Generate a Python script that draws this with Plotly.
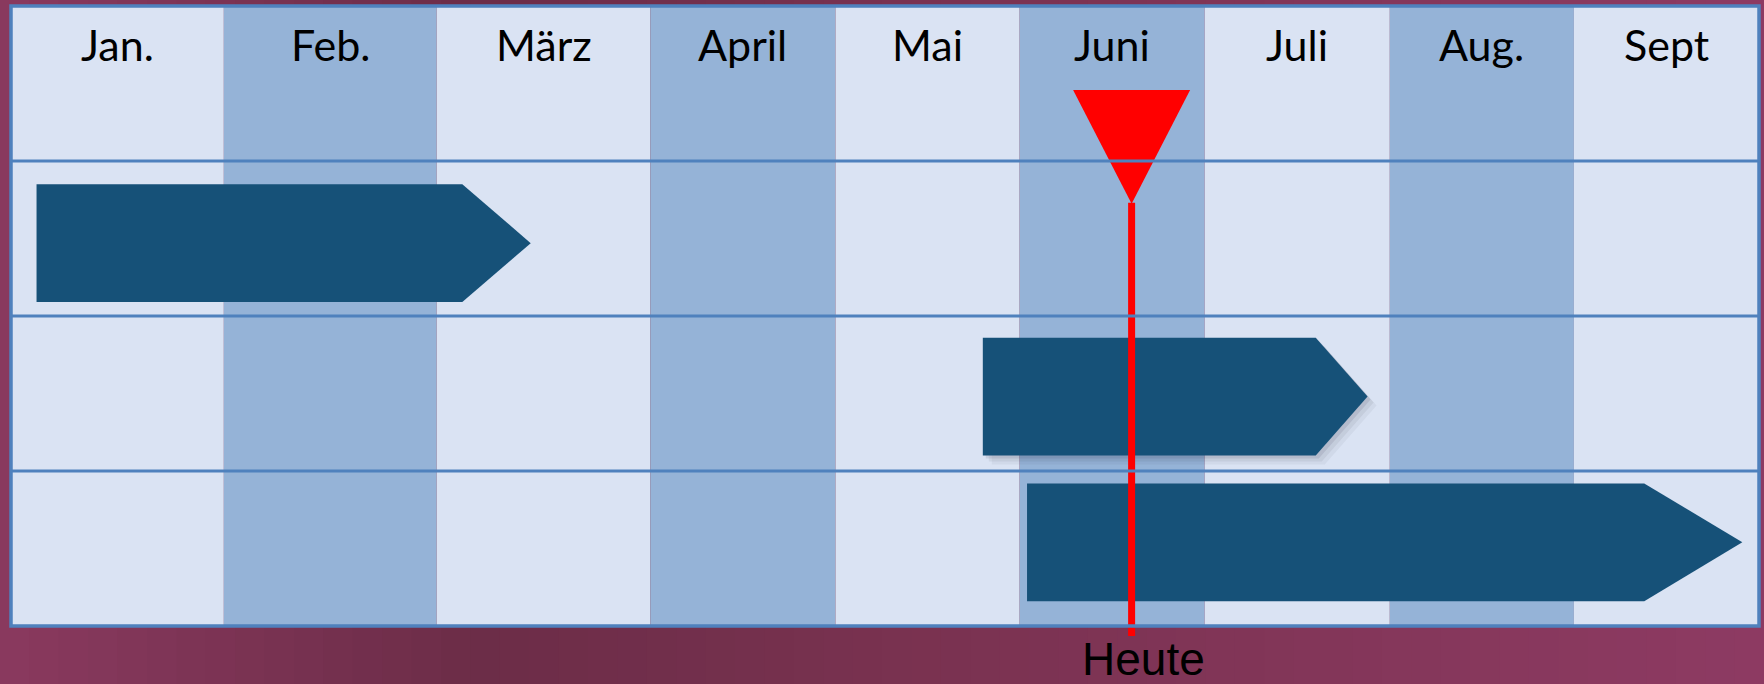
import plotly.graph_objects as go

# ---------------- data ----------------
months = ["Jan.", "Feb.", "März", "April", "Mai", "Juni", "Juli", "Aug.", "Sept"]
month_widths = [1.15, 1.15, 1.155, 1.0, 0.995, 1.0, 1.0, 0.995, 1.0]  # relative column widths as drawn

task_lane = [1.53, 2.52, 3.46]       # bar centre in row units (row 0 = header)
task_start = [0.12, 4.80, 5.04]      # in months (0 = start of Jan.)
task_body_end = [2.12, 6.60, 8.38]   # end of rectangular part
task_tip = [2.44, 6.88, 8.91]        # arrow point
task_shadow = [False, True, False]

today = 5.605
today_label = "Heute"

# ---------------- helpers ----------------
edges = [0.0]
for w in month_widths:
    edges.append(edges[-1] + w)


def mx(m):
    """map month value (e.g. 5.6 = 60% into June) to x-axis coordinate"""
    i = min(int(m), len(month_widths) - 1)
    return edges[i] + (m - i) * month_widths[i]


W, H = 1764, 684
frame_l, frame_r, frame_t, frame_b = 11, 1759, 6, 626
total = edges[-1]
ux = (frame_r - frame_l) / total
uy = (frame_b - frame_t) / 4.0
x_range = [-frame_l / ux, total + (W - frame_r) / ux]
y_range = [4 + (H - frame_b) / uy, -frame_t / uy]

LIGHT = "#dae3f3"
DARK = "#95b3d7"
BAR = "#165178"
GRID = "#4f81bd"
RED = "#ff0000"

shapes = []

# background gradient (purple)
grad_stops = [(0, (0x8a, 0x3a, 0x5f)), (0.27, (0x6c, 0x2d, 0x48)), (0.5, (0x79, 0x32, 0x50)),
              (1.0, (0x8e, 0x3b, 0x63))]
n = 60
for k in range(n):
    f = (k + 0.5) / n
    for j in range(len(grad_stops) - 1):
        a, ca = grad_stops[j]
        b, cb = grad_stops[j + 1]
        if a <= f <= b:
            t = (f - a) / (b - a)
            c = tuple(int(ca[q] + (cb[q] - ca[q]) * t) for q in range(3))
            break
    shapes.append(dict(type="rect", xref="paper", yref="paper", x0=k / n, x1=(k + 1) / n + 0.002,
                       y0=0, y1=1, fillcolor="rgb(%d,%d,%d)" % c, line_width=0, layer="below"))

# month columns
for i in range(len(months)):
    shapes.append(dict(type="rect", xref="x", yref="y", x0=edges[i], x1=edges[i + 1], y0=0, y1=4,
                       fillcolor=DARK if i % 2 == 1 else LIGHT, line_width=0, layer="below"))

# row lines
for r in [1, 2, 3]:
    shapes.append(dict(type="line", xref="x", yref="y", x0=0, x1=total, y0=r, y1=r,
                       line=dict(color=GRID, width=3)))
# frame
shapes.append(dict(type="rect", xref="x", yref="y", x0=0, x1=total, y0=0, y1=4,
                   line=dict(color=GRID, width=3.5), fillcolor="rgba(0,0,0,0)"))

fig = go.Figure()

bar_h = 0.76
for lane, s, e, tip, sh in zip(task_lane, task_start, task_body_end, task_tip, task_shadow):
    yc = lane
    xs = [mx(s), mx(e), mx(tip), mx(e), mx(s), mx(s)]
    ys = [yc - bar_h / 2, yc - bar_h / 2, yc, yc + bar_h / 2, yc + bar_h / 2, yc - bar_h / 2]
    if sh:
        dx, dy = 5 / ux, 5 / uy
        for k, a in enumerate([0.10, 0.07, 0.05]):
            o = (k + 1) * 0.6
            fig.add_trace(go.Scatter(x=[v + dx * o for v in xs], y=[v + dy * o for v in ys],
                                     fill="toself", mode="lines", line_width=0,
                                     fillcolor="rgba(40,40,60,%.2f)" % a, hoverinfo="skip",
                                     showlegend=False))
    fig.add_trace(go.Scatter(x=xs, y=ys, fill="toself", mode="lines", line_width=0,
                             fillcolor=BAR, hoverinfo="skip", showlegend=False))

# today marker: line + triangle
tx = mx(today)
fig.add_trace(go.Scatter(x=[tx, tx], y=[1.27, 4 + 10 / uy], mode="lines",
                         line=dict(color=RED, width=7), hoverinfo="skip", showlegend=False))
tri_half = 58.5 / ux
fig.add_trace(go.Scatter(x=[tx - tri_half, tx + tri_half, tx, tx - tri_half],
                         y=[(90 - frame_t) / uy, (90 - frame_t) / uy, 1.275, (90 - frame_t) / uy],
                         fill="toself", mode="lines", line_width=0, fillcolor=RED,
                         hoverinfo="skip", showlegend=False))

annotations = []
for i, m in enumerate(months):
    annotations.append(dict(x=(edges[i] + edges[i + 1]) / 2, y=0.25, xref="x", yref="y",
                            text=m, showarrow=False,
                            font=dict(family="Lato, Open Sans, sans-serif", size=43, color="black")))
annotations.append(dict(x=tx, y=4 + 33 / uy, xref="x", yref="y", text=today_label, showarrow=False,
                        xshift=12, font=dict(family="Liberation Sans, Arial, sans-serif", size=46,
                                             color="black")))

fig.update_layout(
    width=W, height=H, margin=dict(l=0, r=0, t=0, b=0),
    paper_bgcolor="#7a3352", plot_bgcolor="rgba(0,0,0,0)",
    xaxis=dict(range=x_range, visible=False, fixedrange=True),
    yaxis=dict(range=y_range, visible=False, fixedrange=True),
    shapes=shapes, annotations=annotations, showlegend=False,
)

fig.write_html("out.html", config={"displayModeBar": False},
               post_script="document.body.style.margin='0';document.body.style.overflow='hidden';")
